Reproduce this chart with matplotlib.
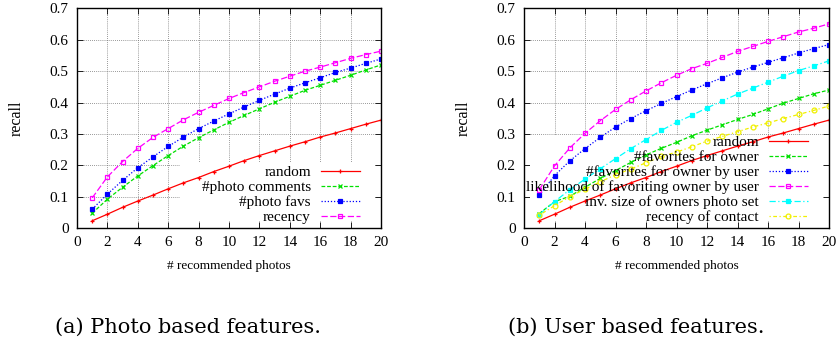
import matplotlib
matplotlib.use("Agg")
import matplotlib.pyplot as plt
from matplotlib.patches import Rectangle

plt.rcParams['font.family'] = ['Liberation Serif', 'DejaVu Serif']

n_photos = list(range(1, 21))

random_rec = [0.023, 0.044, 0.066, 0.086, 0.105, 0.125, 0.144, 0.161, 0.180, 0.197,
              0.215, 0.231, 0.246, 0.261, 0.275, 0.290, 0.303, 0.317, 0.331, 0.344]
photo_comments = [0.047, 0.092, 0.130, 0.166, 0.199, 0.231, 0.261, 0.288, 0.313, 0.337,
                  0.359, 0.380, 0.401, 0.420, 0.439, 0.455, 0.471, 0.487, 0.504, 0.520]
photo_favs = [0.060, 0.108, 0.152, 0.192, 0.227, 0.260, 0.290, 0.317, 0.341, 0.364,
              0.386, 0.407, 0.427, 0.446, 0.463, 0.479, 0.496, 0.510, 0.525, 0.539]
recency = [0.096, 0.163, 0.212, 0.254, 0.289, 0.317, 0.345, 0.369, 0.391, 0.413,
           0.432, 0.450, 0.468, 0.484, 0.500, 0.513, 0.527, 0.541, 0.553, 0.564]

fav_owner = [0.046, 0.084, 0.101, 0.130, 0.158, 0.183, 0.209, 0.233, 0.254, 0.273,
             0.294, 0.312, 0.329, 0.346, 0.362, 0.380, 0.398, 0.413, 0.428, 0.440]
fav_owner_user = [0.104, 0.167, 0.214, 0.253, 0.289, 0.322, 0.349, 0.374, 0.397, 0.419,
                  0.440, 0.460, 0.479, 0.497, 0.513, 0.528, 0.543, 0.558, 0.572, 0.585]
likelihood = [0.122, 0.198, 0.255, 0.302, 0.342, 0.378, 0.409, 0.437, 0.463, 0.487,
              0.508, 0.525, 0.544, 0.563, 0.579, 0.595, 0.610, 0.625, 0.637, 0.651]
inv_size = [0.043, 0.084, 0.122, 0.156, 0.189, 0.221, 0.253, 0.282, 0.311, 0.337,
            0.359, 0.383, 0.405, 0.427, 0.446, 0.465, 0.484, 0.502, 0.517, 0.533]
recency_contact = [0.041, 0.071, 0.100, 0.124, 0.147, 0.170, 0.188, 0.208, 0.228, 0.242,
                   0.259, 0.277, 0.292, 0.307, 0.322, 0.335, 0.349, 0.362, 0.375, 0.389]

left_series = [
    ("random", random_rec, "#ff0000", "-", "+", "#ff0000"),
    ("#photo comments", photo_comments, "#00e000", (0, (3, 1.5)), "x", "#00e000"),
    ("#photo favs", photo_favs, "#0000ff", (0, (1, 1.5)), "s", "#0000ff"),
    ("recency", recency, "#ff00ff", (0, (5, 2)), "s", "none"),
]
right_series = [
    ("random", random_rec, "#ff0000", "-", "+", "#ff0000"),
    ("#favorites for owner", fav_owner, "#00e000", (0, (3, 1.5)), "x", "#00e000"),
    ("#favorites for owner by user", fav_owner_user, "#0000ff", (0, (1, 1.5)), "s", "#0000ff"),
    ("likelihood of favoriting owner by user", likelihood, "#ff00ff", (0, (5, 2)), "s", "none"),
    ("inv. size of owners photo set", inv_size, "#00ffff", (0, (5, 2, 1, 2)), "s", "#00ffff"),
    ("recency of contact", recency_contact, "#f0f000", (0, (1, 2, 3, 2)), "o", "none"),
]

fig = plt.figure(figsize=(8.38, 3.43), dpi=100)
ax1 = fig.add_axes([0.0919, 0.3353, 0.3628, 0.64])
ax2 = fig.add_axes([0.6253, 0.3353, 0.3640, 0.64])

def setup(ax, series, rect, anchor):
    ax.set_axisbelow(True)
    ax.set_xlim(0, 20)
    ax.set_ylim(0, 0.7)
    ax.set_xticks(range(0, 21, 2))
    ax.set_yticks([i / 10 for i in range(8)])
    ax.set_yticklabels(["0"] + [f"{i/10:.1f}" for i in range(1, 8)])
    ax.tick_params(direction="in", top=True, right=True, labelsize=11, length=4,
                   width=0.6, pad=6)
    ax.grid(True, color="#777777", linestyle=(0, (1, 1.5)), linewidth=0.6)
    for s in ax.spines.values():
        s.set_linewidth(1.0)
    ax.add_patch(Rectangle(rect[:2], rect[2], rect[3], transform=ax.transAxes,
                           facecolor="white", edgecolor="none", zorder=0.8))
    for label, vals, col, ls, mk, mfc in series:
        ax.plot(n_photos, vals, color=col, linestyle=ls, linewidth=0.9,
                marker=mk, markersize=3.5, markerfacecolor=mfc, markeredgecolor=col,
                markeredgewidth=0.9, label=label, zorder=2)
    leg = ax.legend(loc="lower right", bbox_to_anchor=anchor, frameon=False,
                    markerfirst=False, fontsize=11, handlelength=2.55, numpoints=1,
                    labelspacing=0.08, handletextpad=0.65, borderpad=0.2)
    for t in leg.get_texts():
        t.set_ha("right")
    ax.set_xlabel("# recommended photos", fontsize=9.5, labelpad=8)
    ax.set_ylabel("recall", fontsize=11.5, labelpad=18)

setup(ax1, left_series, (0.34, 0.03, 0.64, 0.265), (0.965, -0.03))
setup(ax2, right_series, (0.02, 0.03, 0.96, 0.39), (0.965, -0.03))

fig.text(0.224, 0.03, "(a) Photo based features.", fontsize=15, ha="center",
         family=["DejaVu Serif"])
fig.text(0.759, 0.03, "(b) User based features.", fontsize=15, ha="center",
         family=["DejaVu Serif"])

fig.savefig("out.png", dpi=100)
